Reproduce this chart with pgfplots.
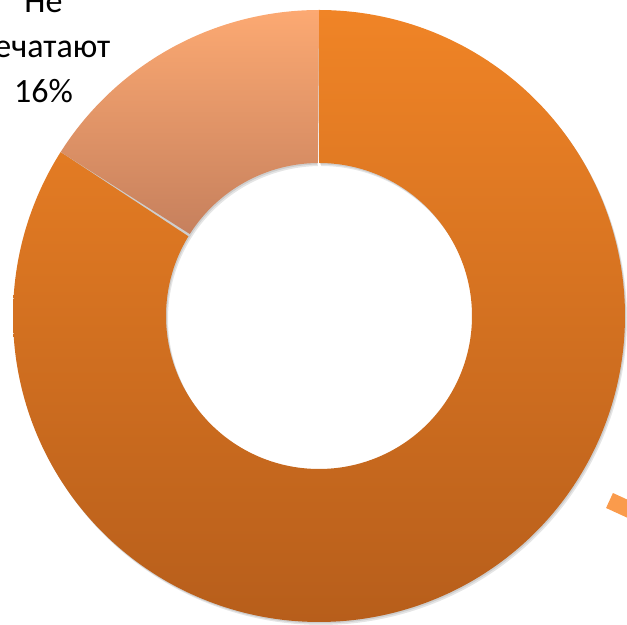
\documentclass[border=0pt]{standalone}
\usepackage{pgfplots}
\usepackage{pgfplotstable}
\pgfplotsset{compat=1.18}
\usepackage{fontspec}
\setmainfont{Carlito}
\definecolor{mainTop}{HTML}{F08426}
\definecolor{mainBot}{HTML}{B75E1B}
\definecolor{lightTop}{HTML}{FCA972}
\definecolor{lightBot}{HTML}{C6805D}
\definecolor{leader}{HTML}{FA9B4C}
\pgfplotstableread{
label value
Pechatayut 84
NePechatayut 16
}\piedata
\pgfplotstablegetelem{0}{value}\of\piedata \let\va\pgfplotsretval
\pgfplotstablegetelem{1}{value}\of\piedata \let\vb\pgfplotsretval
\pgfmathsetmacro{\aA}{90}
\pgfmathsetmacro{\aB}{90-3.6*\va}
\pgfmathsetmacro{\aC}{\aB-3.6*\vb}
\def\cx{319}
\def\cy{309}
\def\Ro{306}
\def\Ri{153}
\begin{document}
\begin{tikzpicture}
\begin{axis}[at={(0,0)}, anchor=south west,
  width=627bp, height=625bp, scale only axis,
  xmin=0, xmax=627, ymin=0, ymax=625, hide axis,
  clip=true]
% shadow
\addplot[draw=none, fill=black, fill opacity=0.10, domain=0:2, samples=601]
 ({\cx+2+(x<=1 ? \Ro : \Ri)*cos(x<=1 ? 90-360*x : 90-360*(2-x))},
  {\cy-3+(x<=1 ? \Ro : \Ri)*sin(x<=1 ? 90-360*x : 90-360*(2-x))});
\addplot[draw=none, fill=black, fill opacity=0.10, domain=0:2, samples=601]
 ({\cx+1+(x<=1 ? \Ro : \Ri)*cos(x<=1 ? 90-360*x : 90-360*(2-x))},
  {\cy-1.5+(x<=1 ? \Ro : \Ri)*sin(x<=1 ? 90-360*x : 90-360*(2-x))});
% main slice
\addplot[draw=none, top color=mainTop, bottom color=mainBot, domain=0:2, samples=601]
 ({\cx+(x<=1 ? \Ro : \Ri)*cos(x<=1 ? \aA+(\aB-\aA)*x : \aB-(\aB-\aA)*(x-1))},
  {\cy+(x<=1 ? \Ro : \Ri)*sin(x<=1 ? \aA+(\aB-\aA)*x : \aB-(\aB-\aA)*(x-1))});
% light slice
\addplot[draw=none, top color=lightTop, bottom color=lightBot, domain=0:2, samples=301]
 ({\cx+(x<=1 ? \Ro : \Ri)*cos(x<=1 ? \aB+(\aC-\aB)*x : \aC-(\aC-\aB)*(x-1))},
  {\cy+(x<=1 ? \Ro : \Ri)*sin(x<=1 ? \aB+(\aC-\aB)*x : \aC-(\aC-\aB)*(x-1))});
% leader line (cropped)
\addplot[leader, line width=16.5bp, line cap=butt] coordinates {(609.5,124.5) (640,110.5)};
\end{axis}
\node[anchor=base, font=\fontsize{34bp}{45bp}\selectfont] at (43.5bp,612bp) {Не};
\node[anchor=base, font=\fontsize{34bp}{45bp}\selectfont] at (43.5bp,567bp) {печатают};
\node[anchor=base, font=\fontsize{34bp}{45bp}\selectfont] at (43.5bp,522bp) {16\%};
\pgfresetboundingbox
\path[use as bounding box] (0,0) rectangle (627bp,625bp);
\end{tikzpicture}
\end{document}
